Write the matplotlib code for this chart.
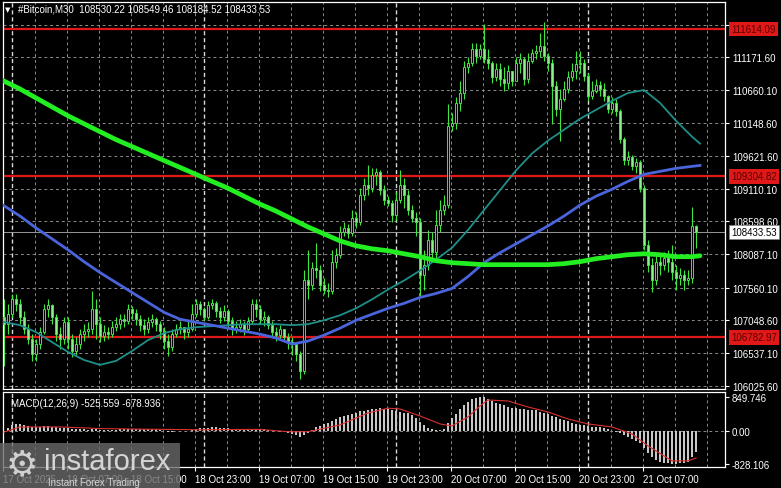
import matplotlib
matplotlib.use("Agg")
import matplotlib.pyplot as plt
import matplotlib.transforms as mtransforms
from matplotlib.patches import Rectangle
import numpy as np

plt.rcParams['font.family'] = ['Liberation Sans', 'DejaVu Sans']

# ---------------------------------------------------------------- data
# M30 candles, 17 Oct 23:00 .. 21 Oct 13:30 (open = previous close)
first_open = 107098
closes = [
    106989, 107145, 107378, 107300, 107098, 106911, 106756, 106523, 106678, 106865,
    107222, 107285, 107098, 106834, 106756, 107020, 106756, 106569, 106678, 106834,
    106880, 106911, 107222, 106989, 106803, 106865, 106834, 106943, 106989, 107067,
    107036, 107222, 107160, 107067, 106974, 106911, 107020, 107067, 106989, 106880,
    106725, 106632, 106834, 106911, 106943, 106865, 106911, 107145, 107300, 107222,
    107098, 107285, 107316, 107191, 107098, 107191, 107036, 106911, 106943, 106989,
    106911, 107036, 107300, 107222, 107067, 107098, 106974, 106865, 106818, 106911,
    106787, 106709, 106678, 106523, 106258, 107689, 107611, 107876, 107844, 107611,
    107533, 107502, 107969, 108078, 108435, 108498, 108420, 108653, 108591, 109011,
    109166, 109120, 109322, 109368, 109088, 108933, 108886, 108700, 108933, 109166,
    109011, 108777, 108653, 108591, 107767, 107922, 108311, 108124, 108544, 108777,
    108855, 110099, 110146, 110457, 110612, 111017, 111079, 111297, 111188, 111297,
    111141, 111079, 110861, 110986, 110830, 110768, 110954, 110799, 111079, 111141,
    110830, 111110, 111234, 111266, 111343, 111188, 111079, 110721, 110364, 110519,
    110675, 110861, 110954, 111063, 111079, 110877, 110566, 110643, 110737, 110675,
    110566, 110364, 110457, 110332, 109897, 109555, 109602, 109462, 109524, 109120,
    108233, 107922, 107689, 107969, 107922, 108031, 107969, 107813, 107720, 107767,
    107689, 107720, 108530.22, 108433.53]
highs = [
    107378, 107300, 107456, 107456, 107378, 107191, 106989, 106834, 106756, 106943,
    107300, 107378, 107300, 107145, 106943, 107098, 107098, 106834, 106787, 106911,
    106989, 107020, 107502, 107378, 107098, 106974, 106943, 107036, 107098, 107145,
    107145, 107300, 107269, 107222, 107129, 107067, 107098, 107145, 107098, 107036,
    106943, 106834, 106911, 106989, 107036, 106943, 107036, 107300, 107378, 107347,
    107254, 107347, 107378, 107347, 107254, 107285, 107222, 107098, 107036, 107067,
    107036, 107098, 107378, 107378, 107285, 107191, 107129, 107036, 106943, 106974,
    106911, 106849, 106787, 106709, 106569, 107844, 108155, 107969, 108264, 107922,
    107720, 107642, 108155, 108187, 108529, 108591, 108560, 108777, 108746, 109120,
    109275, 109477, 109431, 109431, 109399, 109166, 108995, 108933, 109057, 109399,
    109275, 109088, 108855, 108746, 108653, 108155, 108466, 108435, 108777, 108933,
    109011, 110441, 110301, 110550, 110799, 111110, 111172, 111390, 111390, 111374,
    111700, 111297, 111110, 111079, 111079, 111017, 111048, 110954, 111172, 111234,
    111172, 111234, 111297, 111359, 111545, 111732, 111234, 111141, 110799, 110675,
    110799, 110954, 111079, 111266, 111266, 111141, 110923, 110799, 110830, 110799,
    110768, 110581, 110550, 110519, 110364, 109928, 109710, 109633, 109586, 109555,
    109166, 108311, 108031, 108078, 108078, 108124, 108155, 108233, 107922, 107876,
    107844, 107844, 108824, 108549.46]
lows = [
    106336, 106834, 107098, 107191, 106989, 106834, 106678, 106414, 106414, 106600,
    106834, 107098, 106989, 106725, 106600, 106678, 106600, 106476, 106507, 106600,
    106725, 106787, 106834, 106756, 106709, 106725, 106756, 106787, 106880, 106911,
    106943, 106989, 107067, 106974, 106880, 106818, 106849, 106943, 106880, 106756,
    106600, 106492, 106569, 106787, 106834, 106756, 106787, 106880, 107098, 107129,
    107036, 107067, 107222, 107098, 107005, 107036, 106943, 106818, 106849, 106865,
    106818, 106880, 106989, 107098, 106989, 106958, 106911, 106787, 106725, 106756,
    106725, 106600, 106507, 106414, 106134, 106212, 107378, 107533, 107720, 107502,
    107456, 107409, 107456, 107876, 108031, 108373, 108342, 108373, 108498, 108544,
    108933, 109011, 109057, 109166, 109011, 108855, 108840, 108591, 108622, 108886,
    108809, 108700, 108591, 108373, 107425, 107533, 107844, 108000, 108031, 108435,
    108700, 108809, 110021, 110053, 110332, 110519, 110923, 111032, 111079, 111141,
    111079, 110986, 110768, 110799, 110721, 110643, 110675, 110721, 110799, 110923,
    110737, 110768, 111079, 111141, 111172, 111110, 110954, 110130, 110255, 109866,
    110488, 110612, 110799, 110830, 110923, 110799, 110488, 110519, 110612, 110566,
    110488, 110301, 110301, 110255, 109835, 109477, 109477, 109399, 109353, 109057,
    108155, 107813, 107487, 107611, 107767, 107844, 107813, 107689, 107533, 107611,
    107533, 107611, 107642, 108184.52]

# moving averages, read every 4th bar
ma_idx = [-1] + list(range(4, 173, 4)) + [174]
ma_green = [110830, 110675, 110535, 110395, 110255, 110130, 110006, 109882, 109773, 109664,
            109555, 109446, 109337, 109228, 109120, 108995, 108871, 108762, 108637, 108513,
            108404, 108295, 108218, 108171, 108140, 108093, 108047, 107984, 107953, 107938,
            107922, 107922, 107922, 107922, 107922, 107938, 107969, 108016, 108047, 108078,
            108093, 108078, 108047, 108047, 108062]
ma_blue = [108886, 108684, 108498, 108327, 108155, 107969, 107798, 107642, 107487, 107331,
           107176, 107067, 107020, 106974, 106927, 106880, 106834, 106772, 106678, 106725,
           106818, 106927, 107051, 107145, 107238, 107316, 107409, 107471, 107549, 107736,
           107953, 108109, 108249, 108389, 108529, 108684, 108855, 108995, 109104, 109228,
           109337, 109384, 109431, 109462, 109477]
ma_teal = [107036, 106974, 106865, 106709, 106554, 106429, 106352, 106414, 106569, 106740,
           106849, 106911, 106943, 106958, 106974, 106989, 106989, 106989, 106974, 106989,
           107051, 107129, 107238, 107378, 107533, 107673, 107829, 108000, 108187, 108466,
           108777, 109088, 109399, 109664, 109866, 110037, 110208, 110348, 110488, 110612,
           110659, 110457, 110177, 109928, 109819]

levels = [111614.09, 109304.82, 106782.97]
last_price = 108433.53
price_ticks = [111682.10, 111171.60, 110660.10, 110148.60, 109621.60, 109110.10,
               108598.60, 108087.10, 107560.10, 107048.60, 106537.10, 106025.60]

# MACD(12,26,9) main histogram per bar
macd_hist = [
    -30, 80, 160, 180, 170, 160, 130, 110, 110, 110,
    120, 120, 110, 90, 80, 80, 70, 50, 40, 40,
    40, 30, 50, 40, 30, 30, 30, 30, 30, 40,
    40, 60, 60, 60, 50, 40, 40, 40, 40, 30,
    10, -20, -20, -10, 0, -10, 0, 30, 60, 70,
    70, 80, 90, 90, 80, 80, 70, 50, 40, 40,
    30, 40, 60, 60, 50, 40, 30, 10, -10, -20,
    -30, -50, -70, -100, -140, -110, -40, 30, 90, 130,
    170, 200, 250, 290, 340, 370, 400, 430, 460, 490,
    510, 530, 550, 560, 565, 560, 545, 520, 490, 470,
    460, 450, 400, 320, 230, 150, 80, 40, 20, 20,
    50, 200, 320, 430, 550, 650, 730, 790, 830, 849.746,
    840, 800, 750, 710, 680, 640, 610, 580, 570, 560,
    540, 530, 530, 520, 480, 460, 430, 380, 340, 300,
    270, 240, 200, 170, 150, 140, 120, 110, 100, 90,
    70, 40, 10, -20, -60, -110, -150, -190, -250, -300,
    -420, -540, -650, -720, -770, -800, -815, -828.106, -825, -815,
    -800, -770, -660, -525.559]
sig_idx = [0, 4, 14, 24, 34, 49, 64, 71, 76, 84, 91, 96, 99, 104, 109, 112,
           116, 119, 121, 126, 131, 136, 141, 146, 152, 157, 161, 165, 167, 171, 173]
sig_vals = [-30, 100, 100, 60, 45, 30, 40, -20, -20, 150, 450, 570, 550, 375, 175,
            125, 350, 625, 775, 750, 600, 475, 300, 175, 100, -75, -375, -625,
            -750, -750, -678.936]

x_labels = ["17 Oct 2025", "18 Oct 07:00", "18 Oct 15:00", "18 Oct 23:00",
            "19 Oct 07:00", "19 Oct 15:00", "19 Oct 23:00", "20 Oct 07:00",
            "20 Oct 15:00", "20 Oct 23:00", "21 Oct 07:00"]
x_label_pos = [-0.25, 15.75, 31.75, 47.75, 63.75, 79.75, 95.75, 111.75,
               127.75, 143.75, 159.75]
day_sep = [2, 50, 98, 146]

# ---------------------------------------------------------------- figure
W, H = 781, 489
CANDLE = "#3ee63e"
BEAR = "#8cf08c"
GRID = "#8a8a8a"

fig = plt.figure(figsize=(W / 100, H / 100), dpi=100, facecolor="black")
ax = fig.add_axes([3 / W, 1 - 390 / H, 722 / W, 387 / H], facecolor="black")
ax2 = fig.add_axes([3 / W, 1 - 468 / H, 722 / W, 75 / H], facecolor="black", sharex=ax)

for a in (ax, ax2):
    for s in a.spines.values():
        s.set_color("white")
        s.set_linewidth(0.9)
    a.set_xlim(-0.25, 180.25)
    for k in range(1, 23):
        a.axvline(8 * k - 0.25, color=GRID, lw=0.7, ls=(0, (3, 3)), zorder=0.5)
    for d in day_sep:
        a.axvline(d, color="#d8d8d8", lw=1.0, ls=(0, (3, 2)), zorder=0.6)

# main panel
ax.set_ylim(105974, 112038)
for p in price_ticks:
    ax.axhline(p, color=GRID, lw=0.7, ls=(0, (3, 3)), zorder=0.5)
for lv in levels:
    ax.axhline(lv, color="#e01818", lw=1.6, zorder=1)
ax.axhline(last_price, color="#b0b0b0", lw=0.6, zorder=1)

xs = np.arange(len(closes))
c = np.array(closes, dtype=float)
o = np.array([first_open] + closes[:-1], dtype=float)
up = c >= o
ax.vlines(xs, lows, highs, color=CANDLE, lw=0.8, zorder=2)
bottom = np.minimum(o, c)
height = np.abs(c - o)
ax.bar(xs[up], height[up], bottom=bottom[up], width=0.6, color="black",
       edgecolor=CANDLE, linewidth=0.7, zorder=3)
ax.bar(xs[~up], height[~up], bottom=bottom[~up], width=0.6, color=BEAR,
       edgecolor=CANDLE, linewidth=0.7, zorder=3)

ax.plot(ma_idx, ma_teal, color="#1f8f8a", lw=1.3, zorder=4)
ax.plot(ma_idx, ma_blue, color="#4a64dc", lw=2.0, zorder=4)
ax.plot(ma_idx, ma_green, color="#22ee22", lw=3.4, zorder=4, solid_capstyle="round")

ax.yaxis.tick_right()
ax.set_yticks(price_ticks)
ax.set_yticklabels([f"{p:.2f}" for p in price_ticks])
ax.tick_params(axis="y", colors="white", labelsize=7, length=3, pad=2)
ax.tick_params(axis="x", bottom=False, labelbottom=False)

trans = mtransforms.blended_transform_factory(ax.transAxes, ax.transData)
for lv in levels:
    ax.text(1 + 6 / 722, lv, f"{lv:.2f}", transform=trans, ha="left", va="center",
            fontsize=7, color="#5a0000", zorder=6,
            bbox=dict(boxstyle="square,pad=0.25", fc="#e01818", ec="none"))
ax.text(1 + 6 / 722, last_price, f"{last_price:.2f}", transform=trans, ha="left",
        va="center", fontsize=7, color="black", zorder=6,
        bbox=dict(boxstyle="square,pad=0.25", fc="white", ec="#808080", lw=0.5))

# MACD panel
ax2.set_ylim(-903, 975)
ax2.axhline(0, color=GRID, lw=0.7, ls=(0, (3, 3)), zorder=0.5)
ax2.bar(xs, macd_hist, width=0.5, color="#c8c8c8", zorder=2)
ax2.plot(sig_idx, sig_vals, color="#d83030", lw=0.8, zorder=3)
ax2.yaxis.tick_right()
ax2.set_yticks([849.746, 0, -828.106])
ax2.set_yticklabels(["849.746", "0.00", "-828.106"])
ax2.tick_params(axis="y", colors="white", labelsize=7, length=3, pad=2)
ax2.set_xticks(x_label_pos)
ax2.set_xticklabels(x_labels, ha="left")
ax2.tick_params(axis="x", colors="white", labelsize=7, length=3, pad=2)
ax2.text(8 / 722, 0.85, "MACD(12,26,9) -525.559 -678.936", transform=ax2.transAxes,
         color="white", fontsize=7, va="center", ha="left")

# header
fig.text(5 / W, 1 - 10 / H, "\u25bc", color="white", fontsize=5, va="center",
         family=["DejaVu Sans"])
fig.text(18 / W, 1 - 10 / H, "#Bitcoin,M30  108530.22 108549.46 108184.52 108433.53",
         color="white", fontsize=7, va="center")

# watermark
fig.add_artist(Rectangle((0, 0), 180 / W, 45 / H, transform=fig.transFigure,
                         facecolor="#6a6a6a", alpha=0.8, edgecolor="none", zorder=10))
fig.text(22 / W, 1 - 465 / H, "\u2699", color="#d0d0d0", fontsize=26, ha="center",
         va="center", family=["DejaVu Sans"], zorder=11)
fig.text(44 / W, 1 - 462 / H, "instaforex", color="#d4d4d4", fontsize=21,
         ha="left", va="center", zorder=11)
fig.text(48 / W, 1 - 483 / H, "Instant Forex Trading", color="#d4d4d4", fontsize=7,
         ha="left", va="center", zorder=11)

fig.savefig("out.png", dpi=100, facecolor="black")
